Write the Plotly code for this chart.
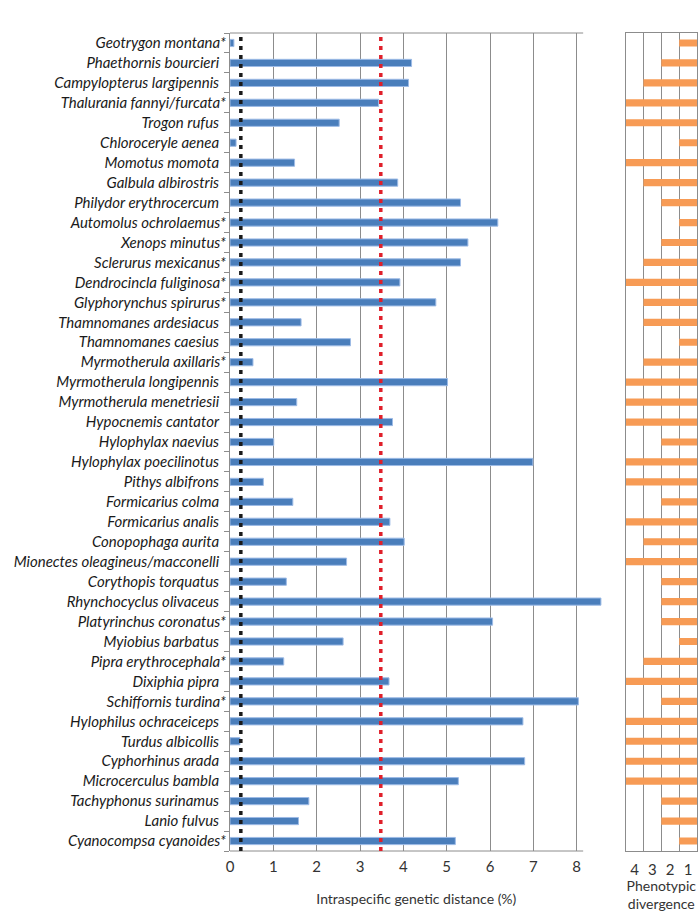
import plotly.graph_objects as go
from plotly.subplots import make_subplots

species = [
    "Geotrygon montana*", "Phaethornis bourcieri", "Campylopterus largipennis",
    "Thalurania fannyi/furcata*", "Trogon rufus", "Chloroceryle aenea", "Momotus momota",
    "Galbula albirostris", "Philydor erythrocercum", "Automolus ochrolaemus*",
    "Xenops minutus*", "Sclerurus mexicanus*", "Dendrocincla fuliginosa*",
    "Glyphorynchus spirurus*", "Thamnomanes ardesiacus", "Thamnomanes caesius",
    "Myrmotherula axillaris*", "Myrmotherula longipennis", "Myrmotherula menetriesii",
    "Hypocnemis cantator", "Hylophylax naevius", "Hylophylax poecilinotus",
    "Pithys albifrons", "Formicarius colma", "Formicarius analis", "Conopophaga aurita",
    "Mionectes oleagineus/macconelli", "Corythopis torquatus", "Rhynchocyclus olivaceus",
    "Platyrinchus coronatus*", "Myiobius barbatus", "Pipra erythrocephala*", "Dixiphia pipra",
    "Schiffornis turdina*", "Hylophilus ochraceiceps", "Turdus albicollis",
    "Cyphorhinus arada", "Microcerculus bambla", "Tachyphonus surinamus", "Lanio fulvus",
    "Cyanocompsa cyanoides*",
]

genetic_distance = [
    0.09, 4.19, 4.12, 3.43, 2.52, 0.14, 1.49, 3.87, 5.32, 6.18,
    5.49, 5.32, 3.92, 4.75, 1.64, 2.78, 0.53, 5.02, 1.54, 3.75,
    1.01, 6.99, 0.77, 1.45, 3.69, 4.02, 2.69, 1.30, 8.56, 6.06,
    2.61, 1.24, 3.67, 8.04, 6.76, 0.23, 6.80, 5.27, 1.82, 1.58, 5.20,
]

phenotypic_divergence = [
    1, 2, 3, 4, 4, 1, 4, 3, 2, 1,
    2, 3, 4, 3, 3, 1, 3, 4, 4, 4,
    2, 4, 4, 2, 4, 3, 4, 2, 2, 2,
    1, 3, 4, 2, 4, 4, 4, 4, 2, 2, 1,
]

x_ticks = [0, 1, 2, 3, 4, 5, 6, 7, 8]
pheno_tickvals = [3.5, 2.5, 1.5, 0.5]
pheno_ticktext = ["4", "3", "2", "1"]
threshold_low = 0.25
threshold_high = 3.48

# labels without asterisk get an en-space so their text ends where the others' text ends
tick_text = [s if s.endswith("*") else s + "\u2002" for s in species]

FONT = "Lato, 'Open Sans', sans-serif"
GRID = "#8c8c8c"

fig = make_subplots(rows=1, cols=2, shared_yaxes=False, horizontal_spacing=0.0)

fig.add_trace(go.Bar(
    y=species, x=genetic_distance, orientation="h",
    marker=dict(color="#4a7ebb", line=dict(color="#9dbbe6", width=1)),
    showlegend=False,
), row=1, col=1)

fig.add_trace(go.Bar(
    y=species, x=phenotypic_divergence, orientation="h",
    marker=dict(color="#f79b55", line=dict(width=0)),
    showlegend=False,
), row=1, col=2)

fig.update_layout(
    width=698, height=912,
    margin=dict(l=230, r=1, t=33, b=61),
    paper_bgcolor="white", plot_bgcolor="white",
    bargap=0.64,
    font=dict(family=FONT, color="#333333"),
)

left_w = 0.798
fig.update_xaxes(
    domain=[0, left_w], range=[0, 8.6], tickvals=x_ticks,
    showgrid=True, gridcolor=GRID, gridwidth=1, zeroline=False, showline=False,
    ticks="", ticklabelstandoff=5, tickfont=dict(size=15, color="#333333"),
    title=dict(text="Intraspecific genetic distance (%)", font=dict(size=14, color="#333333"), standoff=20),
    row=1, col=1,
)
fig.update_yaxes(
    categoryorder="array", categoryarray=species, autorange="reversed",
    tickvals=species, ticktext=tick_text,
    tickson="boundaries", ticks="outside", ticklen=5, tickcolor=GRID,
    showline=True, linecolor=GRID, linewidth=1, showgrid=False,
    tickfont=dict(size=15, color="#1a1a1a", style="italic", family=FONT),
    row=1, col=1,
)

fig.update_xaxes(
    domain=[0.847, 1.0], range=[4, 0], tickvals=pheno_tickvals, ticktext=pheno_ticktext,
    showgrid=False, zeroline=False, showline=True, mirror=True, linecolor=GRID, linewidth=1,
    minor=dict(tickvals=[1, 2, 3], showgrid=True, gridcolor=GRID, gridwidth=1, ticks=""),
    ticks="", ticklabelstandoff=5, tickfont=dict(size=15, color="#333333"),
    title=dict(text="Phenotypic<br>divergence", font=dict(size=14, color="#333333"), standoff=4),
    row=1, col=2,
)
fig.update_yaxes(
    categoryorder="array", categoryarray=species, autorange="reversed",
    showticklabels=False, ticks="", showgrid=False,
    showline=True, mirror=True, linecolor=GRID, linewidth=1,
    row=1, col=2,
)

# top and bottom frame lines of the left panel (stop just past 8)
for yv in (0, 1):
    fig.add_shape(type="line", xref="x", yref="y domain", x0=0, x1=8.15, y0=yv, y1=yv,
                  line=dict(color=GRID, width=1), layer="above")

# threshold lines
fig.add_shape(type="line", xref="x", yref="y domain", x0=threshold_low, x1=threshold_low, y0=0, y1=1,
              line=dict(color="#1a1a1a", width=3.5, dash="4px,5px"), layer="above")
fig.add_shape(type="line", xref="x", yref="y domain", x0=threshold_high, x1=threshold_high, y0=0, y1=1,
              line=dict(color="#e0202a", width=3.5, dash="4px,5px"), layer="above")

fig.write_html(
    "out.html",
    config={"displayModeBar": False},
    post_script="document.body.style.margin='0';document.body.style.overflow='hidden';",
)
